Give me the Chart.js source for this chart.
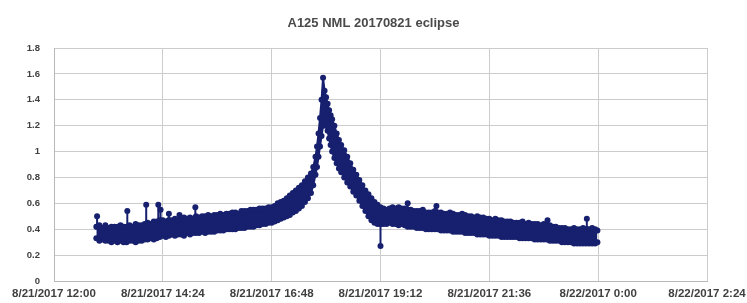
<!DOCTYPE html>
<html>
<head>
<meta charset="utf-8">
<script src="https://cdn.jsdelivr.net/npm/chart.js@4.4.1/dist/chart.umd.min.js"></script>
<style>
  html, body { margin: 0; padding: 0; background: #ffffff; }
  #wrap { width: 747px; height: 303px; }
</style>
</head>
<body>
<div id="wrap"><canvas id="c" width="747" height="303"></canvas></div>
<script>
// Time in minutes after 8/21/2017 12:00
const minutes = [
  56,60,64,68,72,76,80,84,88,92,96,100,104,108,112,116,120,124,128,132,136,140,144,148,152,
  156,160,164,168,172,176,180,184,188,192,196,200,204,208,212,216,220,224,228,232,236,240,244,248,252,
  256,260,264,268,272,276,280,284,288,292,296,300,304,308,312,316,320,324,328,332,336,340,343,346,348,
  350,352,354,356,358,360,362,364,366,368,371,374,377,380,384,388,392,396,400,404,408,412,416,420,
  424,428,432,436,440,444,448,452,456,460,464,468,472,476,480,484,488,492,496,500,504,508,512,516,520,
  524,528,532,536,540,544,548,552,556,560,564,568,572,576,580,584,588,592,596,600,604,608,612,616,620,
  624,628,632,636,640,644,648,652,656,660,664,668,672,676,680,684,688,692,696,700,704,708,712,716,719
];
// Upper edge of the reading cloud
const upperReadings = [
  0.42,0.43,0.41,0.43,0.41,0.42,0.42,0.42,0.43,0.42,0.42,0.43,0.42,0.44,0.43,0.43,0.44,0.45,0.44,0.46,0.46,0.47,0.47,0.46,0.47,
  0.47,0.48,0.47,0.48,0.49,0.48,0.49,0.48,0.50,0.49,0.50,0.50,0.51,0.50,0.51,0.51,0.52,0.51,0.52,0.52,0.53,0.53,0.52,0.54,0.54,
  0.54,0.55,0.55,0.55,0.56,0.56,0.56,0.57,0.57,0.58,0.60,0.61,0.62,0.64,0.66,0.68,0.70,0.72,0.74,0.77,0.80,0.83,0.88,0.96,1.04,
  1.14,1.26,1.40,1.57,1.47,1.42,1.37,1.32,1.28,1.25,1.20,1.14,1.09,1.05,1.01,0.96,0.91,0.86,0.82,0.78,0.74,0.70,0.67,0.64,
  0.61,0.59,0.57,0.56,0.55,0.56,0.57,0.56,0.57,0.56,0.56,0.55,0.55,0.54,0.54,0.54,0.55,0.53,0.53,0.53,0.54,0.53,0.53,0.52,0.52,
  0.53,0.52,0.51,0.51,0.52,0.51,0.50,0.50,0.49,0.50,0.49,0.49,0.48,0.48,0.47,0.48,0.47,0.47,0.46,0.46,0.46,0.45,0.45,0.45,0.46,
  0.44,0.45,0.44,0.44,0.44,0.43,0.44,0.43,0.43,0.42,0.42,0.41,0.41,0.41,0.40,0.40,0.41,0.40,0.40,0.41,0.40,0.40,0.41,0.40,0.39
];
// Lower edge of the reading cloud
const lowerReadings = [
  0.33,0.31,0.32,0.31,0.31,0.30,0.31,0.30,0.31,0.30,0.30,0.31,0.31,0.30,0.31,0.31,0.32,0.32,0.33,0.32,0.33,0.34,0.35,0.34,0.35,
  0.36,0.35,0.36,0.36,0.35,0.37,0.36,0.37,0.37,0.37,0.38,0.37,0.38,0.38,0.38,0.39,0.39,0.39,0.40,0.40,0.40,0.40,0.41,0.41,0.41,
  0.42,0.42,0.42,0.43,0.43,0.44,0.44,0.45,0.45,0.46,0.47,0.48,0.49,0.50,0.51,0.53,0.54,0.56,0.58,0.61,0.64,0.68,0.74,0.82,0.88,
  0.96,1.04,1.12,1.20,1.22,1.20,1.16,1.10,1.05,1.00,0.95,0.91,0.87,0.84,0.80,0.76,0.73,0.69,0.66,0.62,0.58,0.54,0.50,0.47,
  0.45,0.44,0.44,0.44,0.44,0.45,0.44,0.44,0.43,0.44,0.43,0.42,0.42,0.42,0.41,0.41,0.41,0.40,0.40,0.40,0.40,0.40,0.39,0.39,0.39,
  0.39,0.38,0.38,0.38,0.38,0.37,0.37,0.37,0.37,0.36,0.36,0.36,0.36,0.35,0.35,0.35,0.35,0.34,0.34,0.34,0.34,0.34,0.34,0.33,0.33,
  0.33,0.33,0.33,0.32,0.32,0.32,0.32,0.32,0.31,0.31,0.31,0.31,0.30,0.30,0.30,0.30,0.29,0.29,0.29,0.29,0.29,0.29,0.29,0.29,0.30
];
// Isolated outlying readings (stems drawn from the cloud edge)
const spikeMinutes = [57, 97, 122, 138, 141, 152, 166, 187, 432, 468, 506, 653, 705];
const spikeFrom    = [0.42, 0.42, 0.44, 0.46, 0.47, 0.47, 0.47, 0.49, 0.44, 0.55, 0.53, 0.43, 0.40];
const spikeValues  = [0.50, 0.54, 0.59, 0.59, 0.55, 0.52, 0.51, 0.57, 0.27, 0.60, 0.58, 0.47, 0.48];

const xTickLabels = ['8/21/2017 12:00','8/21/2017 14:24','8/21/2017 16:48','8/21/2017 19:12','8/21/2017 21:36','8/22/2017 0:00','8/22/2017 2:24'];
const yTickLabels = ['0','0.2','0.4','0.6','0.8','1','1.2','1.4','1.6','1.8'];
const chartTitle = 'A125 NML 20170821 eclipse';

const upperPts = minutes.map((m, i) => ({ x: m, y: upperReadings[i] }));
const lowerPts = minutes.map((m, i) => ({ x: m, y: lowerReadings[i] }));
const spikePts = [];
spikeMinutes.forEach((m, i) => {
  spikePts.push({ x: m, y: spikeFrom[i] }, { x: m, y: spikeValues[i] }, { x: m, y: null });
});

const navy = '#17206e';
const gridGray = '#cccccc';

const lineStyle = {
  borderColor: navy,
  backgroundColor: navy,
  borderWidth: 2,
  pointRadius: 3,
  pointBorderWidth: 0,
  pointBackgroundColor: navy,
  tension: 0
};

new Chart(document.getElementById('c'), {
  type: 'line',
  data: {
    datasets: [
      Object.assign({ data: upperPts, fill: '+1' }, lineStyle),
      Object.assign({ data: lowerPts, fill: false }, lineStyle),
      Object.assign({ data: spikePts, fill: false, spanGaps: false }, lineStyle)
    ]
  },
  options: {
    responsive: false,
    animation: false,
    devicePixelRatio: 1,
    layout: { padding: { left: 0, right: 0, top: 0, bottom: 0 } },
    plugins: {
      legend: { display: false },
      tooltip: { enabled: false },
      title: {
        display: true,
        text: chartTitle,
        color: '#4a4a4a',
        font: { family: 'Liberation Sans', size: 13, weight: 'bold' },
        padding: { top: 16, bottom: 16.4 }
      }
    },
    scales: {
      x: {
        type: 'linear',
        min: 0,
        max: 864,
        afterFit: (s) => { s.height = 22; s.paddingRight = 40; s.paddingLeft = 0; },
        ticks: {
          stepSize: 144,
          autoSkip: false,
          maxRotation: 0,
          padding: 6,
          color: '#404040',
          font: { family: 'Liberation Sans', size: 11.5, weight: 'bold' },
          callback: (v) => xTickLabels[Math.round(v / 144)]
        },
        grid: { color: gridGray, lineWidth: 1, drawTicks: false },
        border: { color: '#b8b8b8', width: 1 }
      },
      y: {
        min: 0,
        max: 1.8,
        afterFit: (s) => { s.width = 54; },
        ticks: {
          stepSize: 0.2,
          padding: 14,
          color: '#404040',
          font: { family: 'Liberation Sans', size: 9.5, weight: 'bold' },
          callback: (v) => yTickLabels[Math.round(v / 0.2)]
        },
        grid: { color: gridGray, lineWidth: 1, drawTicks: false },
        border: { color: '#b8b8b8', width: 1 }
      }
    }
  }
});
</script>
</body>
</html>
